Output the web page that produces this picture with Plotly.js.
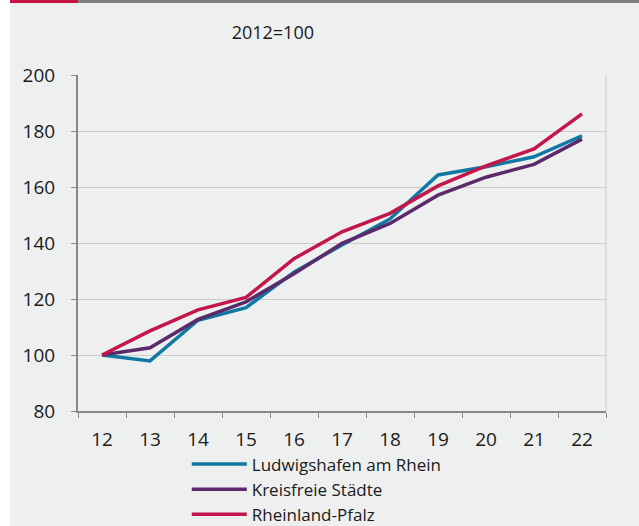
<!DOCTYPE html>
<html>
<head>
<meta charset="utf-8">
<script src="https://cdn.plot.ly/plotly-3.0.1.min.js"></script>
<style>
  html, body { margin: 0; padding: 0; background: #ffffff; width: 639px; height: 526px; overflow: hidden; }
  #chart { position: absolute; left: 10px; top: 0; width: 629px; height: 526px; }
  #barRed { position: absolute; left: 10px; top: 0; width: 68px; height: 3px; background: #c4143f; z-index: 5; }
  #barGray { position: absolute; left: 78px; top: 0; width: 561px; height: 3px; background: #808080; z-index: 5; }
</style>
</head>
<body>
<div id="chart"></div>
<div id="barRed"></div>
<div id="barGray"></div>
<script>
const years = ["12","13","14","15","16","17","18","19","20","21","22"];
const ludwigshafen = [100, 97.9, 112.4, 116.9, 129.6, 139.3, 148.6, 164.3, 167.2, 170.8, 178.3];
const kreisfreie   = [100, 102.6, 112.7, 119.0, 129.0, 139.9, 147.0, 157.1, 163.5, 168.1, 177.1];
const rlp          = [100, 108.6, 116.1, 120.6, 134.4, 144.0, 150.6, 160.4, 167.5, 173.6, 186.1];
const seriesNames  = ["Ludwigshafen am Rhein", "Kreisfreie Städte", "Rheinland-Pfalz"];
const seriesColors = ["#0f78a3", "#5c2a6a", "#c3164a"];
const yTicks = [80, 100, 120, 140, 160, 180, 200];

const FONT = "'Open Sans', 'Noto Sans', sans-serif";
const data = [ludwigshafen, kreisfreie, rlp].map((vals, i) => ({
  type: "scatter", mode: "lines", x: years, y: vals, name: seriesNames[i],
  line: { color: seriesColors[i], width: 3.5 }
}));

const layout = {
  width: 629, height: 526,
  paper_bgcolor: "#eeefef", plot_bgcolor: "#eeefef",
  margin: { l: 68, r: 33, t: 75, b: 115 },
  font: { family: FONT, size: 18, color: "#1a1a1a" },
  title: { text: "2012=100", font: { family: FONT, size: 18, color: "#1a1a1a" },
           xref: "paper", x: 0.369, xanchor: "center", yref: "container", y: 0.937, yanchor: "middle" },
  xaxis: { type: "category", range: [-0.5, 10.5], tickson: "boundaries", ticks: "outside", ticklen: 5, tickcolor: "#888888",
           showline: true, linecolor: "#888888", linewidth: 2, showgrid: false, zeroline: false,
           ticklabelstandoff: 10, tickfont: { family: FONT, size: 19, color: "#1a1a1a" } },
  yaxis: { range: [80, 200], tickvals: yTicks, ticktext: yTicks.map(String), ticks: "outside", ticklen: 5,
           tickcolor: "#888888", showline: true, linecolor: "#888888", linewidth: 2,
           gridcolor: "#cccccc", gridwidth: 1, zeroline: false, ticklabelstandoff: 12,
           tickfont: { family: FONT, size: 19, color: "#1a1a1a" } },
  shapes: [{ type: "line", xref: "paper", yref: "paper", x0: 1, x1: 1, y0: 0, y1: 1,
             line: { color: "#cccccc", width: 1 }, layer: "below" }],
  showlegend: true,
  legend: { orientation: "v", x: 0.206, xanchor: "left", yref: "container", y: 0.151, yanchor: "top",
            itemwidth: 55,
            bgcolor: "rgba(0,0,0,0)", font: { family: FONT, size: 17, color: "#1a1a1a" },
            tracegroupgap: 0 }
};

Plotly.newPlot("chart", data, layout, { displayModeBar: false, staticPlot: true });
</script>
</body>
</html>
